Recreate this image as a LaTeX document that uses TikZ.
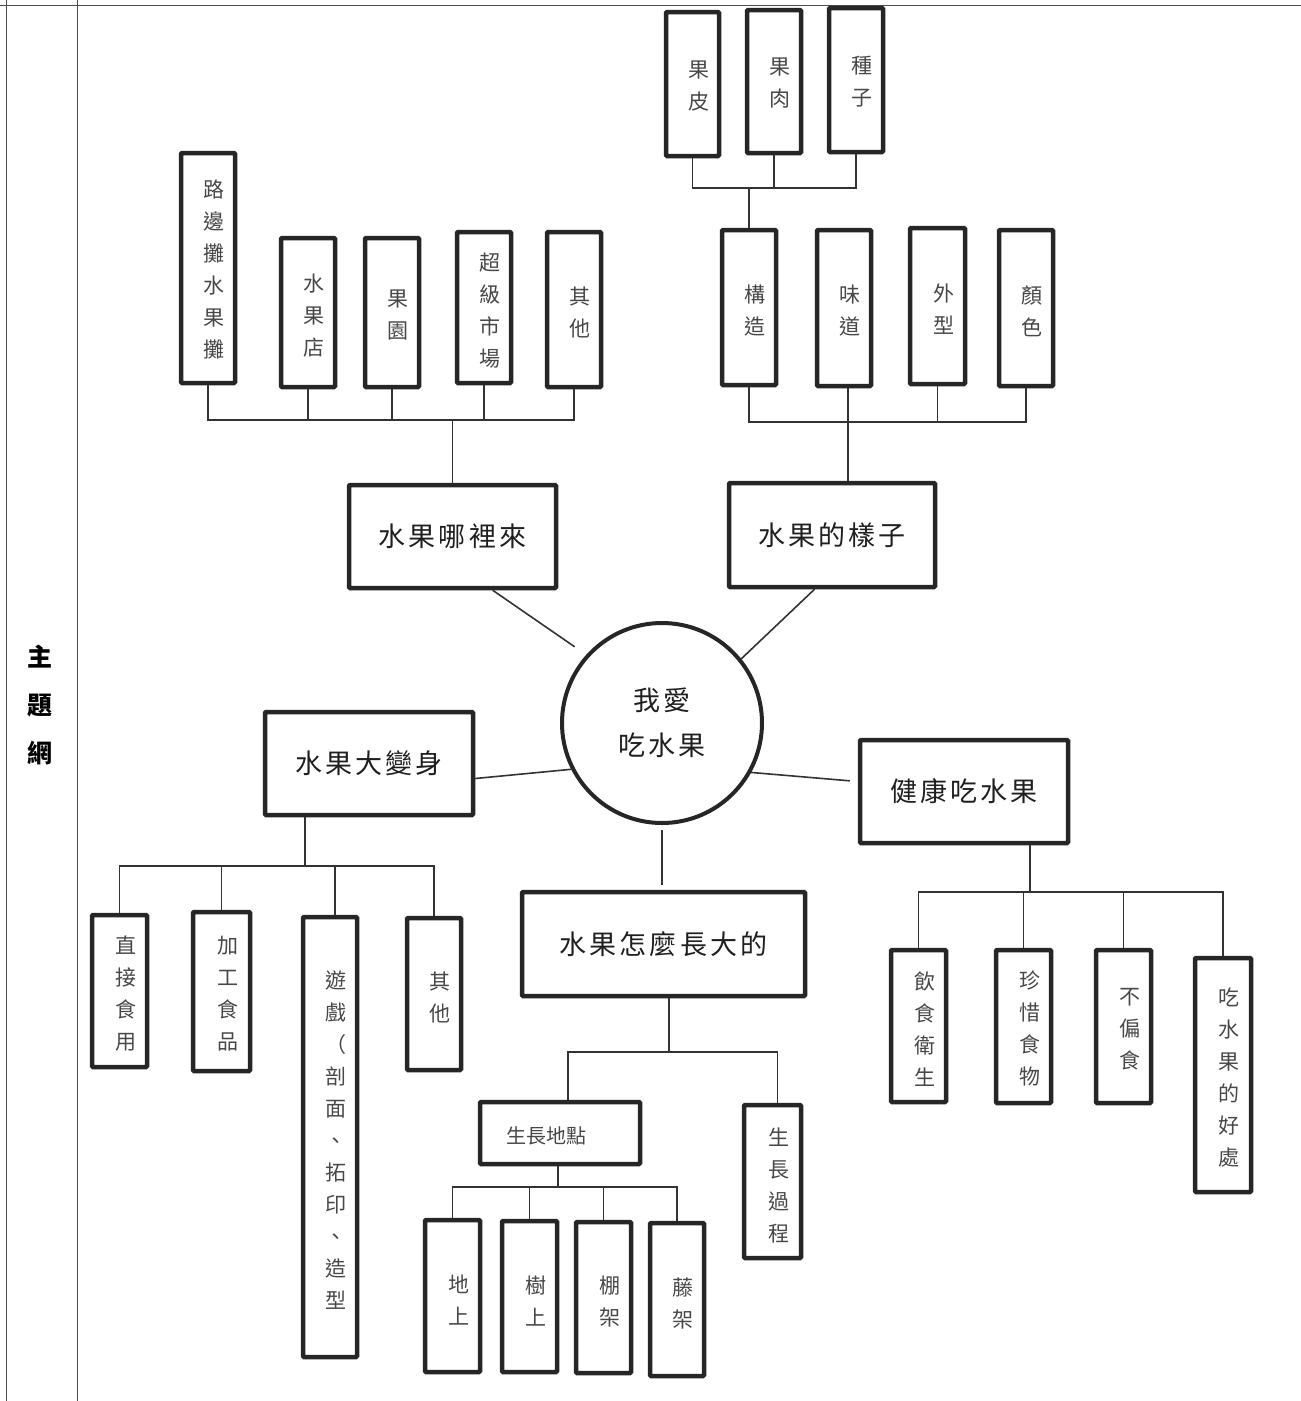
\documentclass[tikz,border=0pt]{standalone}
\usepackage{fontspec}
\newfontfamily\cjk{Noto Sans CJK TC}
\newfontfamily\cjkh{Noto Sans CJK TC}[LetterSpace=12]
\usetikzlibrary{calc}
\tikzset{
  vb/.style={draw=black!85, line width=4.5pt, inner sep=0pt, rounded corners=1pt},
  vtext/.style={font=\cjk\fontsize{21}{32}\selectfont, text=black!72, align=center, inner sep=0pt},
  hb/.style={draw=black!85, line width=4.5pt, inner sep=0pt, rounded corners=1pt, font=\cjkh\fontsize{27}{32}\selectfont, text=black!88},
  conn/.style={draw=black!80, line width=1.6pt},
  frameline/.style={draw=black!70, line width=0.9pt},
}
\newcommand\mybox[7]{%
  \node[vb, minimum width=#4pt, minimum height=#5pt] (#1) at (#2,#3) {};
  \node[vtext] (#1t) at ([xshift=6pt,yshift=#6pt]#1.center) {#7};}
\begin{document}
\begin{tikzpicture}[x=1pt,y=-1pt]
\useasboundingbox (0,0) rectangle (1301,1401);
% frame
\draw[frameline] (0,5) -- (1301,5);
\draw[frameline] (6,0) -- (6,1401);
\draw[frameline] (77,0) -- (77,1401);
\node[font=\cjk\bfseries\fontsize{25}{48}\selectfont, align=center, inner sep=0pt] (side) at (40,705) {主\\題\\網};

% centre
\node[circle, draw=black!85, line width=4pt, minimum size=200pt, inner sep=0pt,
      font=\cjkh\fontsize{27}{45}\selectfont, align=center, text=black!88] (c) at (662,723) {我愛\\吃水果};

% headings
\node[hb, minimum width=207pt, minimum height=103pt] (h1) at (452.5,536.5) {水果哪裡來};
\node[hb, minimum width=206pt, minimum height=104pt] (h2) at (832,535) {水果的樣子};
\node[hb, minimum width=208pt, minimum height=103pt] (bs) at (369,763.5) {水果大變身};
\node[hb, minimum width=208pt, minimum height=103pt] (hk) at (964,791.5) {健康吃水果};
\node[hb, minimum width=283pt, minimum height=104pt] (gr) at (663.5,944) {水果怎麼長大的};

% top-left group
\mybox{r1}{208}{268}{54}{230}{-2}{路\\邊\\攤\\水\\果\\攤}
\mybox{r2}{308}{312.5}{54}{149}{-3}{水\\果\\店}
\mybox{r3}{392}{312.5}{54}{149}{-3}{果\\園}
\mybox{r4}{484}{307.5}{54}{151}{-3}{超\\級\\市\\場}
\mybox{r5}{574}{309.5}{54}{155}{-3}{其\\他}

% top group
\mybox{t1}{692.5}{84}{53}{144}{-2}{果\\皮}
\mybox{t2}{774}{81.5}{54}{143}{-2}{果\\肉}
\mybox{t3}{856}{80}{54}{144}{-2}{種\\子}

% top-right group
\mybox{s1}{749}{307.5}{54}{155}{-3}{構\\造}
\mybox{s2}{844}{308}{54}{156}{-3}{味\\道}
\mybox{s3}{937.5}{306}{55}{156}{-3}{外\\型}
\mybox{s4}{1026}{308}{54}{156}{-3}{顏\\色}

% bottom-left group
\mybox{b1}{119.5}{991}{55}{152}{-3}{直\\接\\食\\用}
\mybox{b2}{221.5}{991.5}{57}{159}{-2}{加\\工\\食\\品}
\mybox{b3}{330}{1137}{54}{440}{-3}{遊\\戲\\（\\剖\\面\\、\\拓\\印\\、\\造\\型}
\mybox{b4}{434}{994}{54}{152}{-3}{其\\他}

% right group
\mybox{k1}{918.5}{1026}{55}{152}{-3}{飲\\食\\衛\\生}
\mybox{k2}{1023.5}{1026.5}{55}{153}{-2}{珍\\惜\\食\\物}
\mybox{k3}{1123.5}{1026.5}{55}{153}{-3}{不\\偏\\食}
\mybox{k4}{1223}{1075}{56}{234}{-3}{吃\\水\\果\\的\\好\\處}

% growth group
\node[vb, minimum width=160pt, minimum height=62pt] (g1) at (560,1133) {};
\node[font=\cjk\fontsize{20}{24}\selectfont, text=black!72, inner sep=0pt] (g1t) at (546,1136) {生長地點};
\mybox{g2}{772.5}{1181.5}{57}{153}{-4}{生\\長\\過\\程}
\mybox{m1}{452.5}{1296}{55}{152}{-4}{地\\上}
\mybox{m2}{529.5}{1296.5}{55}{151}{-4}{樹\\上}
\mybox{m3}{603.5}{1297.5}{55}{151}{-4}{棚\\架}
\mybox{m4}{677}{1299.5}{54}{153}{-4}{藤\\架}

% connectors: top-left
\coordinate (j1) at (452.5,420);
\draw[conn] (r1.south) -- (r1.south |- j1) -- (r5.south |- j1) -- (r5.south);
\foreach \n in {r2,r3,r4} \draw[conn] (\n.south) -- (\n.south |- j1);
\draw[conn] (j1) -- (h1.north);

% top
\coordinate (j2) at (749,188);
\draw[conn] (t1.south) -- (t1.south |- j2) -- (t3.south |- j2) -- (t3.south);
\draw[conn] (t2.south) -- (t2.south |- j2);
\draw[conn] (j2) -- (s1.north);

% top-right
\coordinate (j3) at (850,422);
\draw[conn] (s1.south) -- (s1.south |- j3) -- (s4.south |- j3) -- (s4.south);
\draw[conn] (s3.south) -- (s3.south |- j3);
\draw[conn] ([xshift=4pt]s2.south) -- ([xshift=4pt]s2.south |- h2.north);

% bottom-left
\coordinate (j4) at (305,866);
\draw[conn] (j4 |- bs.south) -- (j4);
\draw[conn] (b1.north) -- (b1.north |- j4) -- (b4.north |- j4) -- (b4.north);
\draw[conn] (b2.north) -- (b2.north |- j4);
\draw[conn] ([xshift=5pt]b3.north) -- ([xshift=5pt]b3.north |- j4);

% right
\coordinate (j5) at (1030,892);
\draw[conn] (j5 |- hk.south) -- (j5);
\draw[conn] (k1.north) -- (k1.north |- j5) -- (k4.north |- j5) -- (k4.north);
\draw[conn] (k2.north) -- (k2.north |- j5);
\draw[conn] (k3.north) -- (k3.north |- j5);

% growth
\coordinate (j6) at (669,1052);
\draw[conn] (j6 |- gr.south) -- (j6);
\draw[conn] ([xshift=8pt]g1.north) -- ([xshift=8pt]g1.north |- j6) -- ([xshift=5pt]g2.north |- j6) -- ([xshift=5pt]g2.north);
\coordinate (j7) at (558,1187);
\draw[conn] (j7 |- g1.south) -- (j7);
\draw[conn] (m1.north) -- (m1.north |- j7) -- (m4.north |- j7) -- (m4.north);
\draw[conn] (m2.north) -- (m2.north |- j7);
\draw[conn] (m3.north) -- (m3.north |- j7);

% centre links
\draw[conn, shorten >=14pt] ($(h1.south west)!0.69!(h1.south east)$) -- (c.138);
\draw[conn] ($(h2.south west)!0.417!(h2.south east)$) -- (c.39);
\draw[conn] ([yshift=-15pt]bs.east) -- (c.207);
\draw[conn, shorten >=8pt] (c.-29) -- ([yshift=10pt]hk.west);
\draw[conn, shorten <=5pt, shorten >=5pt] (c.south) -- (c.south |- gr.north);
\end{tikzpicture}
\end{document}
